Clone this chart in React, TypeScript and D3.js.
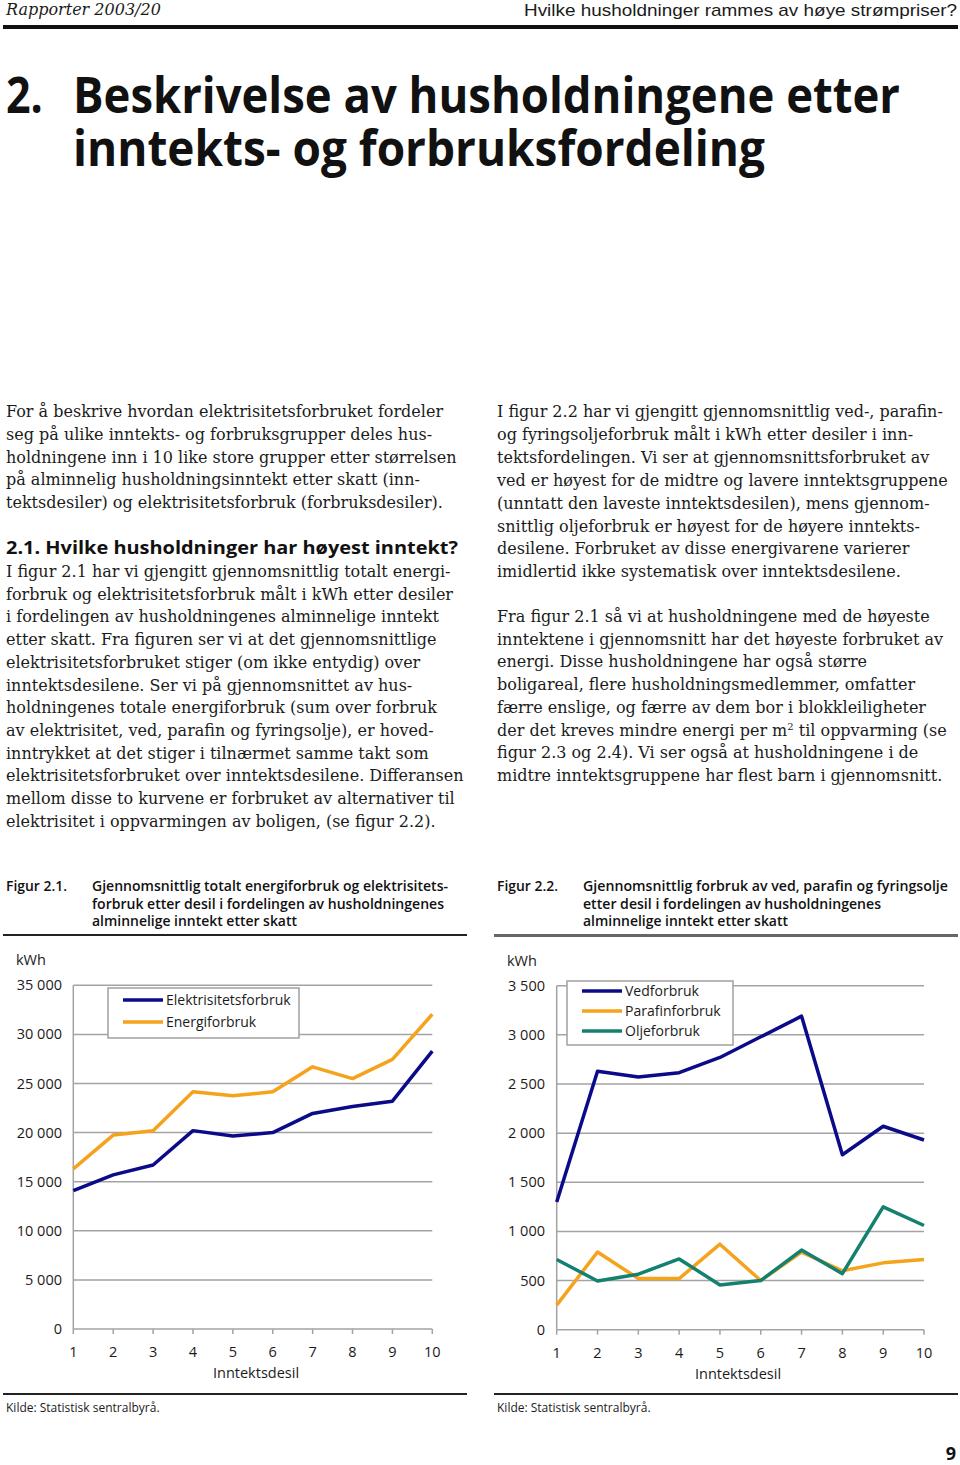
import React from "react";
import * as d3 from "d3";

// ---------- Data ----------
const deciles = [1, 2, 3, 4, 5, 6, 7, 8, 9, 10];
const elektrisitet = [14100, 15700, 16700, 20200, 19650, 20000, 21950, 22650, 23200, 28300];
const energi = [16300, 19750, 20200, 24150, 23750, 24150, 26700, 25500, 27450, 32050];
const fig1Ticks = [0, 5000, 10000, 15000, 20000, 25000, 30000, 35000];

const ved = [1300, 2630, 2570, 2615, 2770, 2980, 3190, 1780, 2070, 1930];
const parafin = [250, 790, 520, 520, 870, 500, 790, 600, 680, 715];
const olje = [715, 495, 565, 720, 455, 500, 810, 570, 1250, 1060];
const fig2Ticks = [0, 500, 1000, 1500, 2000, 2500, 3000, 3500];

const fig1Series = [
  { name: "Elektrisitetsforbruk", values: elektrisitet, color: "#0b0b8a" },
  { name: "Energiforbruk", values: energi, color: "#f5a21c" },
];
const fig2Series = [
  { name: "Vedforbruk", values: ved, color: "#0b0b8a" },
  { name: "Parafinforbruk", values: parafin, color: "#f5a21c" },
  { name: "Oljeforbruk", values: olje, color: "#14806f" },
];

const titleLines = ["Beskrivelse av husholdningene etter", "inntekts- og forbruksfordeling"];

const leftPara1 = [
  "For å beskrive hvordan elektrisitetsforbruket fordeler",
  "seg på ulike inntekts- og forbruksgrupper deles hus-",
  "holdningene inn i 10 like store grupper etter størrelsen",
  "på alminnelig husholdningsinntekt etter skatt (inn-",
  "tektsdesiler) og elektrisitetsforbruk (forbruksdesiler).",
];
const leftPara2 = [
  "I figur 2.1 har vi gjengitt gjennomsnittlig totalt energi-",
  "forbruk og elektrisitetsforbruk målt i kWh etter desiler",
  "i fordelingen av husholdningenes alminnelige inntekt",
  "etter skatt. Fra figuren ser vi at det gjennomsnittlige",
  "elektrisitetsforbruket stiger (om ikke entydig) over",
  "inntektsdesilene. Ser vi på gjennomsnittet av hus-",
  "holdningenes totale energiforbruk (sum over forbruk",
  "av elektrisitet, ved, parafin og fyringsolje), er hoved-",
  "inntrykket at det stiger i tilnærmet samme takt som",
  "elektrisitetsforbruket over inntektsdesilene. Differansen",
  "mellom disse to kurvene er forbruket av alternativer til",
  "elektrisitet i oppvarmingen av boligen, (se figur 2.2).",
];
const rightPara1 = [
  "I figur 2.2 har vi gjengitt gjennomsnittlig ved-, parafin-",
  "og fyringsoljeforbruk målt i kWh etter desiler i inn-",
  "tektsfordelingen. Vi ser at gjennomsnittsforbruket av",
  "ved er høyest for de midtre og lavere inntektsgruppene",
  "(unntatt den laveste inntektsdesilen), mens gjennom-",
  "snittlig oljeforbruk er høyest for de høyere inntekts-",
  "desilene. Forbruket av disse energivarene varierer",
  "imidlertid ikke systematisk over inntektsdesilene.",
];
const rightPara2 = [
  "Fra figur 2.1 så vi at husholdningene med de høyeste",
  "inntektene i gjennomsnitt har det høyeste forbruket av",
  "energi. Disse husholdningene har også større",
  "boligareal, flere husholdningsmedlemmer, omfatter",
  "færre enslige, og færre av dem bor i blokkleiligheter",
  "der det kreves mindre energi per m|2| til oppvarming (se",
  "figur 2.3 og 2.4). Vi ser også at husholdningene i de",
  "midtre inntektsgruppene har flest barn i gjennomsnitt.",
];
const cap1 = [
  "Gjennomsnittlig totalt energiforbruk og elektrisitets-",
  "forbruk etter desil i fordelingen av husholdningenes",
  "alminnelige inntekt etter skatt",
];
const cap2 = [
  "Gjennomsnittlig forbruk av ved, parafin og fyringsolje",
  "etter desil i fordelingen av husholdningenes",
  "alminnelige inntekt etter skatt",
];

const fmt = d3.formatLocale({ thousands: " ", grouping: [3], decimal: ",", currency: ["", ""] }).format(",d");

const SERIF = "'DejaVu Serif', serif";
const SANS = "'Open Sans', 'Noto Sans', sans-serif";
const TXT = "#1b1b1b";

function Para({ lines, x, y0, dy }: { lines: string[]; x: number; y0: number; dy: number }) {
  return (
    <g fontFamily={SERIF} fontSize={16} fill={TXT}>
      {lines.map((l, i) => {
        const parts = l.split("|");
        return (
          <text key={i} x={x} y={y0 + i * dy}>
            {parts.length === 1 ? (
              l
            ) : (
              <>
                {parts[0]}
                <tspan fontSize={10} dy={-6}>{parts[1]}</tspan>
                <tspan dy={6}>{parts[2]}</tspan>
              </>
            )}
          </text>
        );
      })}
    </g>
  );
}

type Series = { name: string; values: number[]; color: string };

function Chart({
  series, ticks, yMax, xr, yr, labelRight, kwhX, legend, axisCenter,
}: {
  series: Series[]; ticks: number[]; yMax: number; xr: [number, number]; yr: [number, number];
  labelRight: number; kwhX: number; legend: { x: number; y: number; w: number; h: number; y0: number; dy: number };
  axisCenter: number;
}) {
  const x = d3.scaleLinear().domain([1, 10]).range(xr);
  const y = d3.scaleLinear().domain([0, yMax]).range(yr);
  const line = d3.line<number>().x((_, i) => x(deciles[i])).y((d) => y(d));
  const grid = "#a3a3a3";
  return (
    <g fontFamily={SANS} fill={TXT}>
      <text x={kwhX} y={y(yMax) - 20} fontSize={14.5}>kWh</text>
      {ticks.map((t) => (
        <g key={t}>
          {t > 0 && <line x1={xr[0]} x2={xr[1]} y1={y(t)} y2={y(t)} stroke={grid} strokeWidth={1.5} />}
          <text x={labelRight} y={y(t)} dy="0.35em" textAnchor="end" fontSize={14.5}>{fmt(t)}</text>
        </g>
      ))}
      <line x1={xr[0]} x2={xr[0]} y1={y(yMax)} y2={y(0)} stroke={grid} strokeWidth={1.5} />
      <line x1={xr[0]} x2={xr[1]} y1={y(0)} y2={y(0)} stroke={grid} strokeWidth={1.5} />
      {deciles.map((d) => (
        <g key={d}>
          <line x1={x(d)} x2={x(d)} y1={y(0)} y2={y(0) + 5} stroke={grid} strokeWidth={1.5} />
          <text x={x(d)} y={y(0) + 23} dy="0.35em" textAnchor="middle" fontSize={14.5}>{d}</text>
        </g>
      ))}
      <text x={axisCenter} y={y(0) + 44} dy="0.35em" textAnchor="middle" fontSize={14.5}>Inntektsdesil</text>
      {series.map((s) => (
        <path key={s.name} d={line(s.values) || ""} fill="none" stroke={s.color} strokeWidth={3.5} strokeLinejoin="round" />
      ))}
      <rect x={legend.x} y={legend.y} width={legend.w} height={legend.h} fill="#fff" stroke="#a0a0a0" strokeWidth={1.5} />
      {series.map((s, i) => (
        <g key={s.name}>
          <line x1={legend.x + 15} x2={legend.x + 55} y1={legend.y0 + i * legend.dy} y2={legend.y0 + i * legend.dy} stroke={s.color} strokeWidth={3.5} />
          <text x={legend.x + 58} y={legend.y0 + i * legend.dy} dy="0.35em" fontSize={14}>{s.name}</text>
        </g>
      ))}
    </g>
  );
}

export default function App() {
  return (
    <svg width={960} height={1465} style={{ position: "absolute", left: 0, top: 0, background: "#fff" }}>
      <rect width={960} height={1465} fill="#fff" />
      {/* Header */}
      <text x={6} y={15} fontFamily="'DejaVu Serif', serif" fontStyle="italic" fontSize={16} fill={TXT}>Rapporter 2003/20</text>
      <text x={957} y={16} fontFamily="'Liberation Sans', Arial, sans-serif" fontSize={17} fill={TXT} textAnchor="end" textLength={433} lengthAdjust="spacingAndGlyphs">Hvilke husholdninger rammes av høye strømpriser?</text>
      <rect x={3} y={25} width={955} height={4} fill="#111" />
      {/* Title */}
      <g fontFamily={SANS} fontWeight={700} fontSize={43} fill="#111">
        <text transform="translate(6,113) scale(1,1.16)">2.</text>
        <text transform="translate(73,113) scale(1,1.16)" textLength={827} lengthAdjust="spacingAndGlyphs">{titleLines[0]}</text>
        <text transform="translate(73,166) scale(1,1.16)" textLength={692} lengthAdjust="spacingAndGlyphs">{titleLines[1]}</text>
      </g>
      {/* Body text */}
      <Para lines={leftPara1} x={6} y0={417} dy={22.8} />
      <text x={6} y={554} fontFamily={SANS} fontWeight={700} fontSize={18} fill="#111" textLength={452} lengthAdjust="spacingAndGlyphs">2.1. Hvilke husholdninger har høyest inntekt?</text>
      <Para lines={leftPara2} x={6} y0={577} dy={22.7} />
      <Para lines={rightPara1} x={497} y0={417} dy={22.9} />
      <Para lines={rightPara2} x={497} y0={622} dy={22.7} />

      {/* Figure captions */}
      <g fontFamily={SANS} fontWeight={600} fontSize={13.5} fill="#111">
        <text x={6} y={891} textLength={61} lengthAdjust="spacingAndGlyphs">Figur 2.1.</text>
        {cap1.map((l, i) => (
          <text key={i} x={92} y={891 + i * 17.5} textLength={[356, 352, 205][i]} lengthAdjust="spacingAndGlyphs">{l}</text>
        ))}
        <text x={497} y={891} textLength={61} lengthAdjust="spacingAndGlyphs">Figur 2.2.</text>
        {cap2.map((l, i) => (
          <text key={i} x={583} y={891 + i * 17.5} textLength={[365, 298, 205][i]} lengthAdjust="spacingAndGlyphs">{l}</text>
        ))}
      </g>
      <rect x={3} y={934} width={464} height={2} fill="#222" />
      <rect x={494} y={934} width={464} height={3} fill="#666" />

      <Chart
        series={fig1Series}
        ticks={fig1Ticks}
        yMax={35000}
        xr={[73.3, 432.3]}
        yr={[1329, 985.3]}
        labelRight={62}
        kwhX={16}
        legend={{ x: 108, y: 988, w: 191, h: 50, y0: 1000, dy: 22 }}
        axisCenter={256}
      />
      <Chart
        series={fig2Series}
        ticks={fig2Ticks}
        yMax={3500}
        xr={[556.7, 924]}
        yr={[1329.7, 985.7]}
        labelRight={545}
        kwhX={507}
        legend={{ x: 567, y: 981, w: 166, h: 64, y0: 991, dy: 20 }}
        axisCenter={738}
      />

      <rect x={3} y={1393} width={464} height={2} fill="#222" />
      <rect x={494} y={1393} width={464} height={2} fill="#222" />
      <text x={6} y={1412} fontFamily={SANS} fontSize={12} fill={TXT}>Kilde: Statistisk sentralbyrå.</text>
      <text x={497} y={1412} fontFamily={SANS} fontSize={12} fill={TXT}>Kilde: Statistisk sentralbyrå.</text>
      <text x={956} y={1460} textAnchor="end" fontFamily={SANS} fontWeight={700} fontSize={18} fill="#111">9</text>
    </svg>
  );
}
